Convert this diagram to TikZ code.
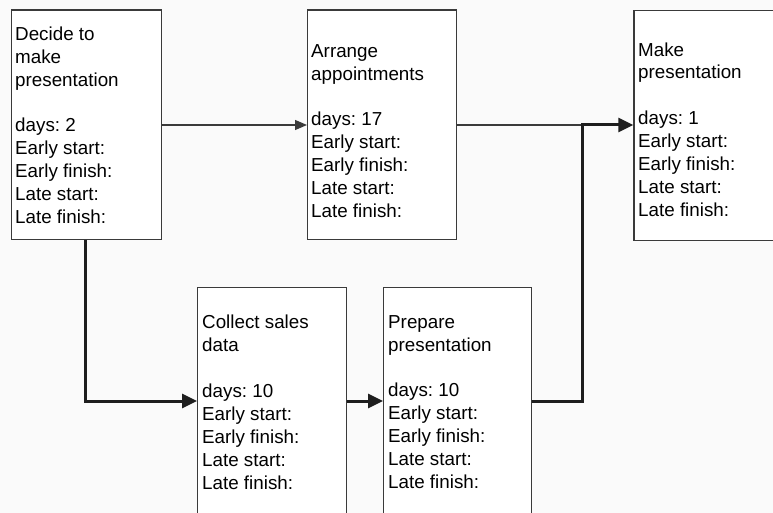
\documentclass[tikz,border=0pt]{standalone}
\usepackage{fontspec}
\setmainfont{Liberation Sans}
\usetikzlibrary{arrows.meta}
\definecolor{boxline}{HTML}{3A3A3A}
\definecolor{ink}{HTML}{1E1E1E}
\frenchspacing
\begin{document}
\begin{tikzpicture}[x=1pt,y=-1pt,
  task/.style={draw=boxline, line width=1.3pt, fill=white, anchor=north west,
    inner sep=0pt, minimum width=#1},
  tasktext/.style={anchor=north west, inner sep=0pt, align=left, text=black,
    font=\fontsize{18.8}{22.9}\selectfont},
  thin/.style={draw=boxline, line width=1.3pt},
  thinarrow/.style={thin, -{Triangle[length=12pt,width=10pt]}},
  crit/.style={draw=ink, line width=3pt},
  critarrow/.style={crit, -{Triangle[length=15pt,width=14pt]}},
]
\clip (0,0) rectangle (773,513);
\fill[white!98!black] (0,0) rectangle (773,513);

% activity boxes
\node[task=150pt, minimum height=229.5pt] (decide) at (10.7,9.5) {};
\node[task=148.7pt, minimum height=229.5pt] (arrange) at (307,9.5) {};
\node[task=200pt, minimum height=229.5pt] (make) at (633.3,10) {};
\node[task=149pt, minimum height=260pt] (collect) at (197,287) {};
\node[task=148pt, minimum height=260pt] (prepare) at (383,287) {};

% box contents
\node[tasktext] (decidetxt) at (15,26.5) {Decide to\\make\\presentation\\[22.9pt]days: 2\\Early start:\\Early finish:\\Late start:\\Late finish:};
\node[tasktext] (arrangetxt) at (311,44) {Arrange\\appointments\\[22.9pt]days: 17\\Early start:\\Early finish:\\Late start:\\Late finish:};
\node[tasktext] (maketxt) at (638,42.2) {Make\\presentation\\[22.9pt]days: 1\\Early start:\\Early finish:\\Late start:\\Late finish:};
\node[tasktext] (collecttxt) at (202,315) {Collect sales\\data\\[22.9pt]days: 10\\Early start:\\Early finish:\\Late start:\\Late finish:};
\node[tasktext] (preparetxt) at (388,315) {Prepare\\presentation\\[22.9pt]days: 10\\Early start:\\Early finish:\\Late start:\\Late finish:};

% routing points
\coordinate (join) at (582.5,125);
\coordinate (down) at (85.5,401);
\coordinate (rise) at (582.5,401);

% connectors
\draw[thinarrow] (decide.east |- join) -- (arrange.west |- join);
\draw[thin] (arrange.east |- join) -- (join);
\draw[critarrow] (prepare.east |- rise) -- (rise) -- (join) -- (make.west |- join);
\draw[critarrow] (decide.south -| down) -- (down) -- (collect.west |- down);
\draw[critarrow] (collect.east |- down) -- (prepare.west |- down);
\end{tikzpicture}
\end{document}
